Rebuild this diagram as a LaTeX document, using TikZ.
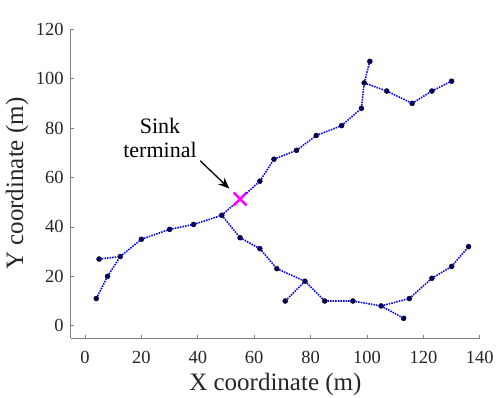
\documentclass[tikz,border=0pt]{standalone}
\usepackage{fontspec}
\setmainfont{Liberation Serif}
\usetikzlibrary{arrows.meta,shapes.misc}
\definecolor{axgray}{RGB}{128,128,128}
\definecolor{txtgray}{RGB}{38,38,38}
\definecolor{sinkcol}{RGB}{255,0,255}

\begin{document}
\begin{tikzpicture}[x=2.82pt, y=2.47pt,
  wire/.style={blue, line width=1.6pt, dash pattern=on 1.5pt off 1.1pt},   % cable between terminals
  term/.style={circle, draw=black, fill=blue!40!black, inner sep=0pt, minimum size=5pt},
  sinkmark/.style={cross out, draw=sinkcol, line width=2.5pt, minimum size=10.5pt, inner sep=0pt},
  axline/.style={axgray, line width=0.8pt},
  ticklab/.style={font=\fontsize{18.5}{20}\selectfont, text=txtgray},
  axlab/.style={font=\fontsize{25}{28}\selectfont, text=txtgray},
  note/.style={font=\fontsize{22}{24}\selectfont, align=center},
  pointer/.style={-{Stealth[length=11pt,width=9pt]}, line width=1.3pt, black},
]
\useasboundingbox (-30.14,-28.87) rectangle (146.45,131.86);

% Axes
\draw[axline] (-5,-5) -- (140,-5);
\draw[axline] (-5,-5) -- (-5,120);
\foreach \x in {0,20,...,140} {
  \draw[axline] (\x,-5) -- ++(0,3pt);
  \node[ticklab] at (\x,-12.7) {\x};
}
\foreach \y in {0,20,...,120} {
  \draw[axline] (-5,\y) -- ++(3pt,0);
  \node[ticklab, anchor=east, xshift=-3.7pt] at (-5,\y) {\y};
}
\node[axlab] (xlab) at (67.5,-23.6) {X coordinate (m)};
\node[axlab, rotate=90] (ylab) at (-24.1,57.5) {Y coordinate (m)};

% Terminals
\node[term] (a1) at (4,11)     {};
\node[term] (a2) at (8,20)     {};
\node[term] (a3) at (12.5,28)  {};
\node[term] (a4) at (5,27)     {};
\node[term] (a5) at (20,35)    {};
\node[term] (a6) at (30,39)    {};
\node[term] (a7) at (38.5,41)  {};
\node[term] (a8) at (48.5,44.7) {};

\node[term] (b1)  at (62,58.5)  {};
\node[term] (b2)  at (67,67.4)  {};
\node[term] (b3)  at (75,71)    {};
\node[term] (b4)  at (82,77)    {};
\node[term] (b5)  at (91,81)    {};
\node[term] (b6)  at (98,88)    {};
\node[term] (b7)  at (99,98.3)  {};
\node[term] (b8)  at (101,107)  {};
\node[term] (b9)  at (107,95)   {};
\node[term] (b10) at (116,90)   {};
\node[term] (b11) at (123,95)   {};
\node[term] (b12) at (130,99)   {};

\node[term] (c1)  at (55,35.6)  {};
\node[term] (c2)  at (62,31.2)  {};
\node[term] (c3)  at (68,23.1)  {};
\node[term] (c4)  at (78,18)    {};
\node[term] (c5)  at (71,10)    {};
\node[term] (c6)  at (85,10)    {};
\node[term] (c7)  at (95,10)    {};
\node[term] (c8)  at (105,8)    {};
\node[term] (c9)  at (113,3)    {};
\node[term] (c10) at (115,11)   {};
\node[term] (c11) at (123,19.2) {};
\node[term] (c12) at (130,24)   {};
\node[term] (c13) at (136,32)   {};

% Sink terminal
\node[sinkmark] (sink) at (55,51.3) {};

% Cables
\draw[wire] (a1) -- (a2) -- (a3) -- (a5) -- (a6) -- (a7) -- (a8) -- (sink);
\draw[wire] (a4) -- (a3);
\draw[wire] (sink) -- (b1) -- (b2) -- (b3) -- (b4) -- (b5) -- (b6) -- (b7) -- (b8);
\draw[wire] (b7) -- (b9) -- (b10) -- (b11) -- (b12);
\draw[wire] (a8) -- (c1) -- (c2) -- (c3) -- (c4) -- (c5);
\draw[wire] (c4) -- (c6) -- (c7) -- (c8) -- (c9);
\draw[wire] (c8) -- (c10) -- (c11) -- (c12) -- (c13);

% Annotation
\node[note] (lbl) at (26.6,76.2) {Sink\\terminal};
\draw[pointer, shorten >=6pt] (lbl.south east) -- (sink);

\end{tikzpicture}
\end{document}
